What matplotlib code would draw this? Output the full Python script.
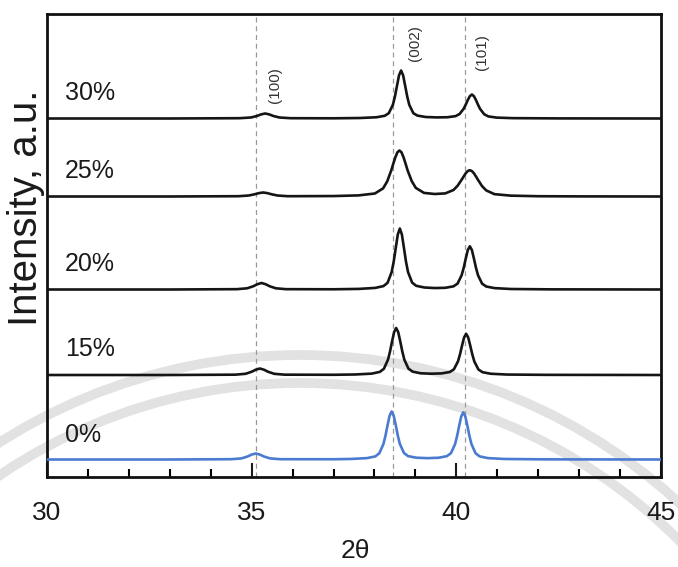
import matplotlib
matplotlib.use("Agg")
import matplotlib.pyplot as plt
from matplotlib.patches import Circle

plt.rcParams['font.family'] = ['Liberation Sans', 'DejaVu Sans']

# ---- XRD patterns: 2θ (deg) and intensity above each pattern's baseline (a.u.) ----
tt_0 = [30.0, 33.0, 34.5, 34.75, 34.9, 35.0, 35.1, 35.2, 35.3, 35.45, 35.7,
        37.0, 37.42, 37.82, 38.02, 38.12, 38.22, 38.27, 38.32, 38.37, 38.42,
        38.47, 38.52, 38.57, 38.62, 38.72, 38.82, 39.02, 39.295,
        39.57, 39.77, 39.87, 39.97, 40.02, 40.07, 40.12, 40.17,
        40.22, 40.27, 40.32, 40.37, 40.47, 40.57, 40.77, 41.17, 42.2, 45.0]
I_0 = [0, 0, 0.3, 1.1, 3.0, 4.9, 6.0, 4.9, 3.0, 1.1, 0.3,
       0.26, 0.53, 1.4, 3.1, 6.3, 15.6, 24.0, 34.3, 43.8, 48.0,
       43.8, 34.3, 24.0, 15.6, 6.55, 3.4, 1.8, 1.35,
       1.75, 3.35, 6.4, 15.5, 23.7, 33.8, 43.1, 47.2,
       43.0, 33.7, 23.6, 15.4, 6.2, 3.1, 1.4, 0.52, 0.15, 0]

tt_15 = [30.0, 33.0, 34.6, 34.85, 35.0, 35.1, 35.2, 35.3, 35.4, 35.55, 35.8,
         37.0, 37.53, 37.93, 38.13, 38.23, 38.33, 38.38, 38.43, 38.48, 38.53,
         38.58, 38.63, 38.68, 38.73, 38.83, 38.93, 39.13, 39.385,
         39.64, 39.84, 39.94, 40.04, 40.09, 40.14, 40.19, 40.24,
         40.29, 40.34, 40.39, 40.44, 40.54, 40.64, 40.84, 41.24, 42.2, 45.0]
I_15 = [0, 0, 0.33, 1.2, 3.25, 5.3, 6.5, 5.3, 3.25, 1.2, 0.33,
        0.22, 0.52, 1.36, 3.1, 6.2, 15.3, 23.5, 33.6, 42.9, 47.0,
        42.9, 33.6, 23.5, 15.3, 6.4, 3.4, 1.7, 1.3,
        1.6, 3.0, 5.65, 13.6, 20.7, 29.5, 37.6, 41.2,
        37.5, 29.4, 20.6, 13.5, 5.5, 2.8, 1.25, 0.45, 0.15, 0]

tt_20 = [30.0, 33.0, 34.64, 34.89, 35.04, 35.14, 35.24, 35.34, 35.44, 35.59, 35.84,
         37.0, 37.62, 38.02, 38.22, 38.32, 38.42, 38.47, 38.52, 38.57, 38.62,
         38.67, 38.72, 38.77, 38.82, 38.92, 39.02, 39.22, 39.475,
         39.73, 39.93, 40.03, 40.13, 40.18, 40.23, 40.28, 40.33,
         40.38, 40.43, 40.48, 40.53, 40.63, 40.73, 40.93, 41.33, 42.3, 45.0]
I_20 = [0, 0, 0.33, 1.2, 3.25, 5.3, 6.5, 5.3, 3.25, 1.2, 0.33,
        0.22, 0.6, 1.6, 3.4, 6.7, 17.4, 27.9, 41.6, 55.0, 61.0,
        55.0, 41.6, 27.9, 17.4, 6.9, 3.7, 2.0, 1.45,
        1.7, 3.15, 5.9, 14.3, 21.7, 30.9, 39.5, 43.2,
        39.5, 30.9, 21.7, 14.2, 5.8, 3.0, 1.4, 0.5, 0.15, 0]

tt_25 = [30.0, 33.0, 34.68, 34.93, 35.08, 35.18, 35.28, 35.38, 35.48, 35.63, 35.88,
         37.0, 37.61, 38.01, 38.21, 38.31, 38.41, 38.46, 38.51, 38.56, 38.61,
         38.66, 38.71, 38.76, 38.81, 38.91, 39.01, 39.21, 39.47,
         39.73, 39.93, 40.03, 40.13, 40.18, 40.23, 40.28, 40.33,
         40.38, 40.43, 40.48, 40.53, 40.63, 40.73, 40.93, 41.33, 42.0, 43.0, 45.0]
I_25 = [0, 0, 0.3, 1.0, 2.3, 3.4, 4.0, 3.4, 2.3, 1.0, 0.3,
        0.45, 1.1, 3.0, 8.1, 15.0, 26.1, 32.8, 39.2, 44.2, 46.0,
        44.2, 39.2, 32.8, 26.1, 15.4, 8.6, 3.6, 2.5,
        3.1, 6.5, 10.7, 16.8, 20.1, 23.3, 25.5, 26.3,
        25.4, 23.2, 20.0, 16.6, 10.3, 6.1, 2.35, 0.85, 0.28, 0.11, 0]

tt_30 = [30.0, 33.0, 34.7, 34.98, 35.13, 35.23, 35.33, 35.43, 35.53, 35.68, 35.95,
         37.0, 37.65, 38.05, 38.25, 38.35, 38.45, 38.5, 38.55, 38.6, 38.65,
         38.7, 38.75, 38.8, 38.85, 38.95, 39.05, 39.25, 39.515,
         39.78, 39.98, 40.08, 40.18, 40.23, 40.28, 40.33, 40.38,
         40.43, 40.48, 40.53, 40.58, 40.68, 40.78, 40.98, 41.38, 42.5, 45.0]
I_30 = [0, 0, 0.3, 1.0, 2.5, 4.1, 5.0, 4.1, 2.5, 1.0, 0.3,
        0.2, 0.5, 1.25, 2.7, 5.3, 13.7, 22.0, 32.7, 43.2, 48.0,
        43.2, 32.7, 22.0, 13.7, 5.3, 2.9, 1.5, 1.1,
        1.25, 2.35, 4.5, 9.8, 13.9, 18.5, 22.3, 24.0,
        22.3, 18.4, 13.75, 9.6, 4.3, 2.1, 0.9, 0.35, 0.1, 0]

sample_labels = ['0%', '15%', '20%', '25%', '30%']
baseline_offsets = [17.5, 102.0, 187.5, 280.5, 358.5]
label_heights = [42, 128, 213, 306, 384]
trace_colors = ['#4a7bd0', '#151515', '#151515', '#151515', '#151515']

reflections = ['(100)', '(002)', '(101)']
reflection_2theta = [35.1, 38.46, 40.2]
reflection_label_x = [35.57, 38.99, 40.62]
reflection_label_y = [391.5, 433.5, 425.0]

x_ticks = [30, 35, 40, 45]

patterns = [(tt_0, I_0), (tt_15, I_15), (tt_20, I_20), (tt_25, I_25), (tt_30, I_30)]

# ---- figure ----
W, H = 678, 567
fig = plt.figure(figsize=(W / 100, H / 100), dpi=100)

# faint seal watermark behind the plot
bg = fig.add_axes([0, 0, 1, 1], zorder=0)
bg.set_xlim(0, W)
bg.set_ylim(H, 0)
bg.axis('off')
bg.add_patch(Circle((300, 355 + 560), 560, fill=False, edgecolor='#e2e2e2', lw=7))
bg.add_patch(Circle((300, 383 + 535), 535, fill=False, edgecolor='#e2e2e2', lw=7))

ax = fig.add_axes([47 / W, (H - 477) / H, (661 - 47) / W, (477 - 14) / H], zorder=1)
ax.set_facecolor('none')

for (tt, counts), off, col in zip(patterns, baseline_offsets, trace_colors):
    ax.plot(tt, [off + c for c in counts], color=col, lw=1.9, solid_joinstyle='round',
            zorder=3)

for lab, yl in zip(sample_labels, label_heights):
    ax.text(30.44, yl, lab, fontsize=18, ha='left', va='center', color='#1a1a1a')

for name, pos, lx, ly in zip(reflections, reflection_2theta,
                             reflection_label_x, reflection_label_y):
    ax.axvline(pos, color='#9a9a9a', lw=0.9, dashes=(4, 3), zorder=2)
    ax.text(lx, ly, name, fontsize=11, rotation=90, ha='center', va='center',
            color='#333333')

ax.set_xlim(30, 45)
ax.set_ylim(0, 463)
ax.set_xticks(x_ticks)
ax.set_xticklabels([str(t) for t in x_ticks])
ax.set_xticks(range(31, 45), minor=True)
ax.set_yticks([])
ax.tick_params(axis='x', which='major', direction='in', length=10, width=1.5,
               labelsize=19, pad=17, colors='#1a1a1a')
ax.tick_params(axis='x', which='minor', direction='in', length=6, width=1.5)
for sp in ax.spines.values():
    sp.set_linewidth(2.0)
    sp.set_color('#111111')

fig.text(355 / W, 1 - 551 / H, '2θ', fontsize=19, ha='center', va='center',
         color='#1a1a1a')
fig.text(26 / W, 1 - 208 / H, 'Intensity, a.u.', fontsize=29, rotation=90,
         ha='center', va='center', color='#1a1a1a')

fig.savefig('out.png', dpi=100)
